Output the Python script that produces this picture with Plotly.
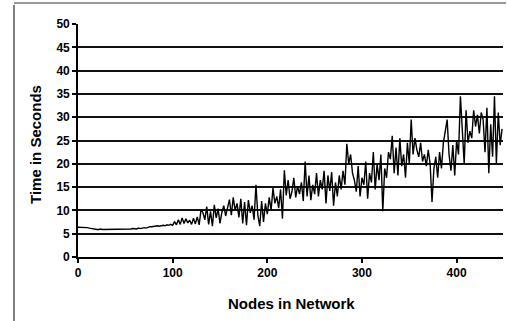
import plotly.graph_objects as go

# Nodes in network (every 2nd node)
nodes = list(range(0, 449, 2))

# Time in seconds
time_s = [
    # 0-16
    6.4, 6.4, 6.4, 6.4, 6.3, 6.3, 6.2, 6.1, 6.0,
    # 18-58
    5.9, 5.9, 5.9, 6.0, 5.9, 5.9, 5.9, 5.9, 6.0, 5.9, 5.9, 5.9, 5.9, 5.9, 6.0, 5.9, 5.9, 6.0, 6.0, 6.0, 6.1,
    # 60-98
    6.1, 6.0, 6.2, 6.1, 6.2, 6.3, 6.2, 6.4, 6.5, 6.5, 6.6, 6.6, 6.7, 6.6, 6.7, 6.8, 6.7, 6.9, 6.8, 7.0,
    # 100-128
    6.8, 7.6, 6.9, 8.0, 7.0, 8.4, 7.2, 8.2, 7.3, 7.9, 7.0, 8.3, 7.1, 8.6, 6.9,
    # 130-158
    10.2, 9.5, 8.0, 10.8, 7.0, 9.8, 6.6, 11.2, 8.4, 10.4, 7.2, 9.6, 11.0, 8.8, 10.5,
    # 160-188
    12.3, 9.0, 12.8, 10.0, 11.5, 8.5, 12.5, 7.2, 11.8, 6.8, 12.2, 9.5, 11.0, 8.0, 15.5,
    # 190-218
    9.0, 6.6, 12.0, 7.5, 11.5, 9.2, 12.8, 10.0, 14.8, 11.5, 13.0, 10.5, 14.5, 8.2, 18.6,
    # 220-248
    13.2, 16.5, 12.5, 14.0, 17.0, 12.8, 15.2, 13.5, 16.0, 12.0, 20.5, 13.0, 17.5, 12.2, 15.5,
    # 250-278
    13.5, 18.0, 13.0, 16.5, 14.5, 18.5, 11.5, 17.5, 14.2, 18.2, 11.0, 16.0, 13.0, 17.5, 14.5,
    # 280-308
    18.5, 15.5, 24.3, 20.0, 22.0, 18.0, 16.5, 14.0, 19.5, 13.0, 17.0, 15.5, 20.5, 12.5, 18.0,
    # 310-338
    16.0, 22.5, 14.5, 20.0, 16.5, 22.0, 9.8, 19.0, 17.0, 22.5, 21.0, 26.0, 18.0, 23.5, 17.5,
    # 340-368
    25.5, 19.5, 22.0, 17.0, 24.5, 20.0, 29.5, 22.0, 25.5, 23.0, 21.5, 24.5, 20.5, 22.0, 19.5,
    # 370-398
    23.0, 20.0, 11.8, 19.0, 21.5, 17.0, 22.5, 19.0, 24.5, 27.0, 29.5, 22.0, 18.5, 24.0, 17.5,
    # 400-428
    25.0, 22.0, 34.5, 28.0, 20.0, 31.5, 24.5, 27.0, 25.5, 31.5, 28.0, 30.5, 26.5, 31.0, 29.5,
    # 430-448
    22.5, 32.0, 18.0, 28.5, 21.5, 34.5, 20.0, 31.0, 24.0, 27.5,
]

y_ticks = [0, 5, 10, 15, 20, 25, 30, 35, 40, 45, 50]
x_ticks = [0, 100, 200, 300, 400]

FONT = "Liberation Sans, Arial, sans-serif"

fig = go.Figure()
fig.add_trace(go.Scatter(
    x=nodes, y=time_s, mode="lines",
    line=dict(color="black", width=1.4),
    showlegend=False, hoverinfo="skip",
))

W, H = 507, 321
ml, mr, mt, mb = 78, 4, 24, 64
pw = W - ml - mr
ph = H - mt - mb

def px_x(p):
    return (p - ml) / pw

def px_y(p):
    return (H - mb - p) / ph

fig.update_layout(
    width=W, height=H,
    margin=dict(l=ml, r=mr, t=mt, b=mb, pad=0, autoexpand=False),
    paper_bgcolor="white", plot_bgcolor="white",
    font=dict(family=FONT, color="black"),
    xaxis=dict(
        range=[0, 449], tickvals=x_ticks, ticktext=[f"<b>{v}</b>" for v in x_ticks],
        showgrid=False, zeroline=False, showline=True, linecolor="black", linewidth=1.6,
        ticks="outside", ticklen=4, tickcolor="black", tickwidth=1.5,
        tickfont=dict(size=12, family=FONT),
    ),
    yaxis=dict(
        range=[0, 50], tickvals=y_ticks, ticktext=[f"<b>{v}</b>" for v in y_ticks],
        showgrid=True, gridcolor="#111111", gridwidth=1.6,
        zeroline=False, showline=True, linecolor="black", linewidth=1.6,
        ticks="outside", ticklen=4, tickcolor="black", tickwidth=1.5,
        tickfont=dict(size=12, family=FONT),
    ),
    annotations=[
        dict(text="<b>Nodes in Network</b>", xref="paper", yref="paper",
             x=px_x(291), y=px_y(303), xanchor="center", yanchor="middle",
             showarrow=False, font=dict(size=15, family=FONT)),
        dict(text="<b>Time in Seconds</b>", xref="paper", yref="paper",
             x=px_x(35), y=px_y(145), xanchor="center", yanchor="middle",
             textangle=-90, showarrow=False, font=dict(size=15, family=FONT)),
    ],
    shapes=[
        dict(type="line", xref="paper", yref="paper",
             x0=px_x(14), x1=px_x(14), y0=px_y(5), y1=px_y(321),
             line=dict(color="#555", width=1.5)),
        dict(type="line", xref="paper", yref="paper",
             x0=px_x(14), x1=px_x(506), y0=px_y(3), y1=px_y(3),
             line=dict(color="#333", width=1.2)),
    ],
)

fig.write_html(
    "out.html",
    config={"displayModeBar": False},
    post_script="document.body.style.margin='0';document.body.style.padding='0';",
)
